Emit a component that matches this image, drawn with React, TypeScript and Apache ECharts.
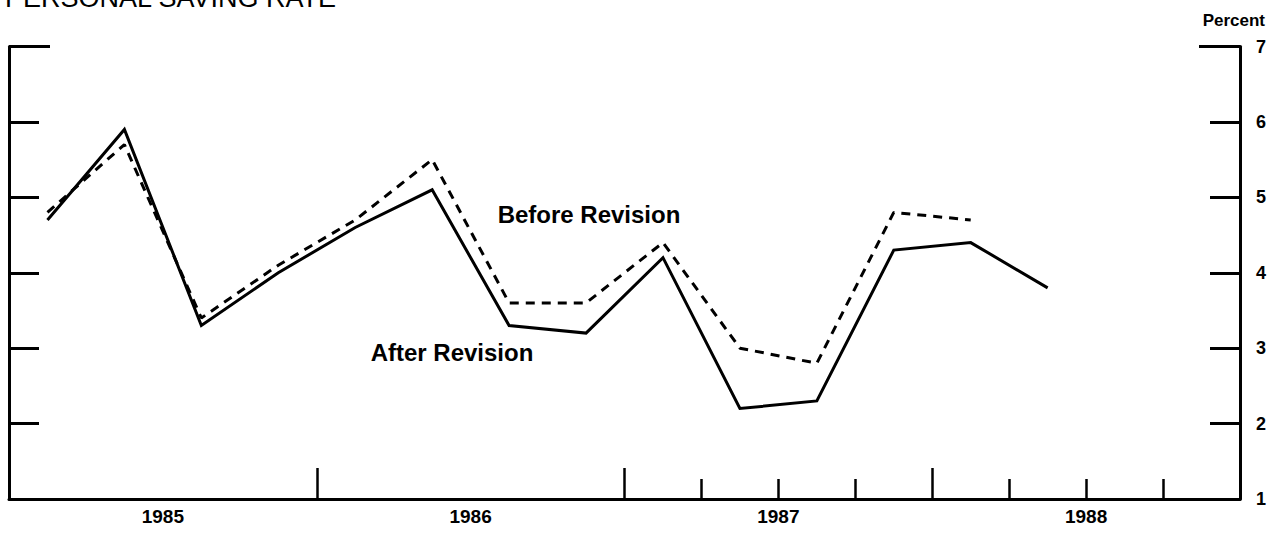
import React, { useEffect, useRef } from "react";
import * as echarts from "echarts";

// Quarterly observations, 1985 Q1 onward (x = quarters since 1985.0, plotted at mid-quarter)
const quarterX = [0.5, 1.5, 2.5, 3.5, 4.5, 5.5, 6.5, 7.5, 8.5, 9.5, 10.5, 11.5, 12.5, 13.5];
const afterRevision = [4.7, 5.9, 3.3, 4.0, 4.6, 5.1, 3.3, 3.2, 4.2, 2.2, 2.3, 4.3, 4.4, 3.8];
const beforeRevision = [4.8, 5.7, 3.4, 4.1, 4.7, 5.5, 3.6, 3.6, 4.4, 3.0, 2.8, 4.8, 4.7];

const years = ["1985", "1986", "1987", "1988"];
const yearLabelPos = [2, 6, 10, 14];
const yearTickPos = [4, 8, 12];
const quarterTickPos = [9, 10, 11, 13, 14, 15];
const topTick = [7];

const FONT = '"Liberation Sans", Arial, Helvetica, sans-serif';

export default function App() {
  const ref = useRef<HTMLDivElement>(null);

  useEffect(() => {
    if (!ref.current) return;
    const chart = echarts.init(ref.current, undefined, { renderer: "svg" });
    const black = "#000";
    const xBase = {
      type: "value" as const,
      min: 0,
      max: 16,
      position: "bottom" as const,
      splitLine: { show: false },
    };
    const yBase = {
      type: "value" as const,
      min: 1,
      max: 7,
      interval: 1,
      splitLine: { show: false },
    };
    chart.setOption({
      animation: false,
      backgroundColor: "#fff",
      grid: { left: 9, right: 32, top: 46.5, bottom: 35 },
      xAxis: [
        {
          ...xBase,
          axisLine: { show: true, onZero: false, lineStyle: { color: black, width: 3 } },
          axisTick: {
            show: true,
            inside: true,
            length: 31,
            customValues: yearTickPos,
            lineStyle: { color: black, width: 2.5 },
          },
          axisLabel: {
            show: true,
            customValues: yearLabelPos,
            formatter: (v: number) => {
              const i = yearLabelPos.indexOf(v);
              return i >= 0 ? years[i] : "";
            },
            fontFamily: FONT,
            fontWeight: "bold",
            fontSize: 19,
            color: black,
            margin: 8,
          },
        },
        {
          ...xBase,
          axisLine: { show: false, onZero: false },
          axisTick: {
            show: true,
            inside: true,
            length: 20,
            customValues: quarterTickPos,
            lineStyle: { color: black, width: 2.5 },
          },
          axisLabel: { show: false },
        },
      ],
      yAxis: [
        {
          ...yBase,
          position: "right",
          axisLine: { show: true, onZero: false, lineStyle: { color: black, width: 3 } },
          axisTick: { show: true, inside: true, length: 30, lineStyle: { color: black, width: 3 } },
          axisLabel: {
            show: true,
            fontFamily: FONT,
            fontWeight: "bold",
            fontSize: 18,
            color: black,
            margin: 16,
          },
        },
        {
          ...yBase,
          position: "left",
          axisLine: { show: true, onZero: false, lineStyle: { color: black, width: 3 } },
          axisTick: { show: true, inside: true, length: 30, lineStyle: { color: black, width: 3 } },
          axisLabel: { show: false },
        },
        {
          ...yBase,
          position: "right",
          axisLine: { show: false, onZero: false },
          axisTick: { show: true, inside: true, length: 41, customValues: topTick, lineStyle: { color: black, width: 3 } },
          axisLabel: { show: false },
        },
        {
          ...yBase,
          position: "left",
          axisLine: { show: false, onZero: false },
          axisTick: { show: true, inside: true, length: 41, customValues: topTick, lineStyle: { color: black, width: 3 } },
          axisLabel: { show: false },
        },
      ],
      series: [
        {
          name: "After Revision",
          type: "line",
          xAxisIndex: 0,
          yAxisIndex: 0,
          data: afterRevision.map((v, i) => [quarterX[i], v]),
          symbol: "none",
          lineStyle: { color: black, width: 3, join: "miter" },
          z: 3,
        },
        {
          name: "Before Revision",
          type: "line",
          xAxisIndex: 0,
          yAxisIndex: 0,
          data: beforeRevision.map((v, i) => [quarterX[i], v]),
          symbol: "none",
          lineStyle: { color: black, width: 3, type: [9, 7] },
          z: 3,
        },
      ],
      graphic: [
        {
          type: "text",
          x: 5,
          y: -2,
          style: {
            text: "PERSONAL SAVING RATE",
            fontFamily: FONT,
            fontSize: 27,
            fill: black,
            align: "left",
            verticalAlign: "middle",
          },
        },
        {
          type: "text",
          x: 1265,
          y: 20,
          style: {
            text: "Percent",
            fontFamily: FONT,
            fontWeight: "bold",
            fontSize: 17,
            fill: black,
            align: "right",
            verticalAlign: "middle",
          },
        },
        {
          type: "text",
          x: 589,
          y: 214,
          style: {
            text: "Before Revision",
            fontFamily: FONT,
            fontWeight: "bold",
            fontSize: 24,
            fill: black,
            align: "center",
            verticalAlign: "middle",
          },
        },
        {
          type: "text",
          x: 452,
          y: 352,
          style: {
            text: "After Revision",
            fontFamily: FONT,
            fontWeight: "bold",
            fontSize: 24,
            fill: black,
            align: "center",
            verticalAlign: "middle",
          },
        },
      ],
    });
    return () => chart.dispose();
  }, []);

  return (
    <div
      ref={ref}
      style={{ position: "absolute", left: 0, top: 0, width: 1272, height: 534, background: "#fff" }}
    />
  );
}
